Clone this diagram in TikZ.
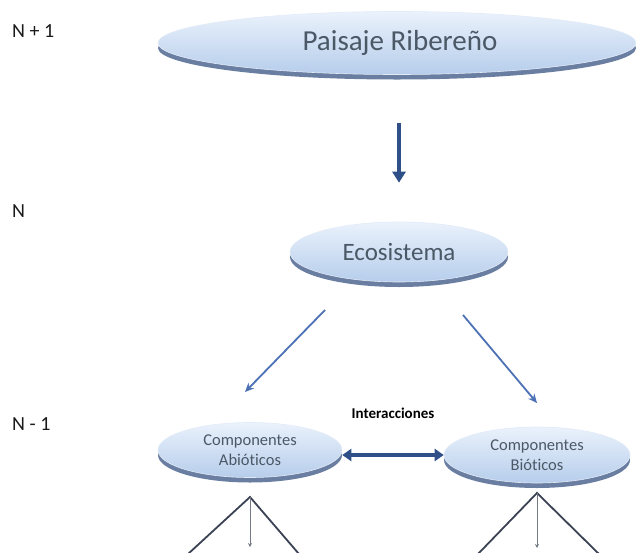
\documentclass[tikz,border=0pt]{standalone}
\usepackage{fontspec}
\setmainfont{Carlito}[Ligatures=NoCommon]
\usetikzlibrary{shapes.geometric,shadows,arrows.meta}

\definecolor{rimblue}{HTML}{5A7098}
\definecolor{facetop}{HTML}{EAF2FC}
\definecolor{facebot}{HTML}{B6CDEB}
\definecolor{labelgray}{HTML}{4B5866}
\definecolor{linkblue}{HTML}{4C71B4}
\definecolor{deepblue}{HTML}{2E4F88}
\definecolor{stemgray}{HTML}{3A4254}

\tikzset{
  bevel/.style={ellipse, inner sep=0pt, align=center,
    top color=facetop, bottom color=facebot,
    draw=white!60!facebot, line width=0.6pt, text=labelgray,
    drop shadow={shadow xshift=0pt, shadow yshift=-5pt,
                 fill=rimblue, opacity=0.9}},
  bigtext/.style={font=\fontsize{29}{33}\selectfont},
  midtext/.style={font=\fontsize{25}{29}\selectfont},
  smalltext/.style={font=\fontsize{16.5}{20}\selectfont},
  level/.style={anchor=west, text=black!90, inner sep=0pt,
    font=\fontsize{20}{24}\selectfont},
  fat/.style={draw=deepblue, line width=4pt,
    -{Triangle[length=11pt,width=13pt]}},
  twoway/.style={draw=deepblue, line width=4.5pt,
    {Triangle[length=9pt,width=12pt]}-{Triangle[length=9pt,width=12pt]}},
  link/.style={draw=linkblue, line width=1.8pt,
    -{Stealth[length=9pt,width=8pt]}},
  stem/.style={draw=stemgray, line width=1.8pt},
  thinstem/.style={draw=stemgray!70, line width=0.9pt,
    -{Stealth[length=4pt,width=4pt]}}
}

\begin{document}
\begin{tikzpicture}[x=1pt,y=-1pt]
  \useasboundingbox (0,0) rectangle (637,552);

  % level labels
  \node[level] (L1) at (12,31)  {N + 1};
  \node[level] (L2) at (12,211) {N};
  \node[level] (L3) at (12,424) {N - 1};

  % hierarchy ellipses
  \node[bevel, bigtext, minimum width=478pt, minimum height=63pt]
    (P) at (397,43) {\hspace{6pt}Paisaje Ribereño};
  \node[bevel, midtext, minimum width=218pt, minimum height=60pt]
    (E) at (399,252) {Ecosistema};
  \node[bevel, smalltext, minimum width=184pt, minimum height=55pt]
    (A) at (250,450) {Componentes\\Abióticos};
  \node[bevel, smalltext, minimum width=186pt, minimum height=56pt]
    (B) at (537,455) {Componentes\\Bióticos};

  \node[font=\bfseries\fontsize{15}{17}\selectfont] (I) at (393,413) {Interacciones};

  % links between levels
  \draw[fat, shorten <=48pt, shorten >=39pt] (E.north |- P.south) -- (E.north);
  \draw[link] ([shift={(-74,58)}]E.center) -- ([shift={(-5,-58)}]A.center);
  \draw[link] ([shift={(64,63)}]E.center) -- ([shift={(0,-52)}]B.center);
  \draw[twoway] (A.east |- B.west) -- (B.west);

  % branches below the components
  \coordinate (Aroot) at (250,497);
  \coordinate (Aleft) at (188,554);
  \coordinate (Amid)  at (250,547);
  \coordinate (Aright) at (299,554);
  \draw[stem] (Aleft) -- (Aroot) -- (Aright);
  \draw[thinstem] (Aroot) -- (Amid);

  \coordinate (Broot) at (537,493);
  \coordinate (Bleft) at (478,554);
  \coordinate (Bmid)  at (537,548);
  \coordinate (Bright) at (599,554);
  \draw[stem] (Bleft) -- (Broot) -- (Bright);
  \draw[thinstem] (Broot) -- (Bmid);
\end{tikzpicture}
\end{document}
